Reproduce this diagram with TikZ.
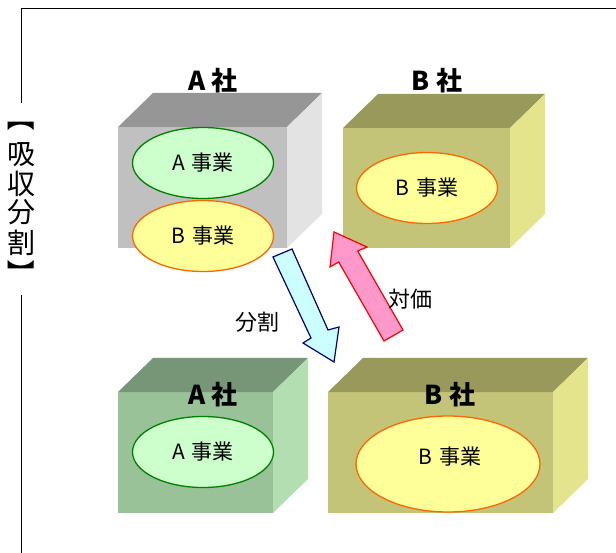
\documentclass[tikz,border=0pt]{standalone}
\usepackage{fontspec}
\setmainfont{Noto Sans CJK JP}
\usetikzlibrary{shapes.geometric}
\definecolor{gFront}{HTML}{C0C0C0}
\definecolor{gTop}{HTML}{969696}
\definecolor{gSide}{HTML}{E3E3E3}
\definecolor{oFront}{HTML}{C4C478}
\definecolor{oTop}{HTML}{99995C}
\definecolor{oSide}{HTML}{E4E48C}
\definecolor{nFront}{HTML}{99C299}
\definecolor{nTop}{HTML}{779677}
\definecolor{nSide}{HTML}{B2DEB2}
\definecolor{ellG}{HTML}{CCFFCC}
\definecolor{ellGline}{HTML}{008000}
\definecolor{ellY}{HTML}{FFFF99}
\definecolor{ellYline}{HTML}{FF6600}
\definecolor{arrB}{HTML}{CCFFFF}
\definecolor{arrBline}{HTML}{000080}
\definecolor{arrP}{HTML}{FF99CC}
\newcommand\cubebox[7]{%
  \fill[#5] (#1,#2) rectangle (#3,#4);
  \fill[#6] (#1,#2) -- (#1+35,#2-34) -- (#3+35,#2-34) -- (#3,#2) -- cycle;
  \fill[#7] (#3,#2) -- (#3+35,#2-34) -- (#3+35,#4-34) -- (#3,#4) -- cycle;
}
\newcommand\biz[1]{#1\hspace{0.32em}事業}
\tikzset{
  bizA/.style={ellipse, draw=ellGline, fill=ellG, line width=1.3pt, inner sep=0pt,
    minimum width=141pt, minimum height=71pt, font=\fontsize{21}{21}\selectfont},
  bizB/.style={ellipse, draw=ellYline, fill=ellY, line width=1.3pt, inner sep=0pt,
    minimum width=141pt, minimum height=71pt, font=\fontsize{21}{21}\selectfont},
  company/.style={inner sep=0pt, font=\fontsize{26}{26}\selectfont\bfseries},
  plain/.style={inner sep=0pt, font=\fontsize{22}{22}\selectfont},
  vlabel/.style={inner sep=0pt, font=\fontsize{28}{28}\selectfont},
  frame/.style={draw=black, line width=0.9pt},
}
\begin{document}
\begin{tikzpicture}[x=1pt,y=-1pt]
\useasboundingbox (0,0) rectangle (616,553);
\fill[white] (0,0) rectangle (616,553);
% frame
\coordinate (f1) at (21,103);
\coordinate (f2) at (21,8);
\coordinate (f3) at (617,8);
\coordinate (f4) at (21,295);
\coordinate (f5) at (21,554);
\draw[frame] (f1) -- (f2) -- (f3);
\draw[frame] (f4) -- (f5);
% vertical label
\node[vlabel, rotate=-90] (lb1) at (21.5,118) {【};
\node[vlabel] (lb2) at (21.5,154.5) {吸};
\node[vlabel] (lb3) at (21.5,183.5) {収};
\node[vlabel] (lb4) at (21.5,212.5) {分};
\node[vlabel] (lb5) at (21.5,242.5) {割};
\node[vlabel, rotate=-90] (lb6) at (21.5,274) {】};
% top-left A company
\cubebox{118}{127}{287}{248}{gFront}{gTop}{gSide}
\node[company] (a1) at (213,81) {A 社};
\node[bizA] (a1a) at (203,163) {\biz{A}};
\node[bizB] (a1b) at (203,236) {\biz{B}};
% top-right B company
\cubebox{343}{128}{510}{248}{oFront}{oTop}{oSide}
\node[company] (b1) at (437,81) {B 社};
\node[bizB] (b1b) at (427,188) {\biz{B}};
% bottom-left A company
\cubebox{118}{392}{273}{513}{nFront}{nTop}{nSide}
\node[company] (a2) at (213,395) {A 社};
\node[bizA] (a2a) at (203,452) {\biz{A}};
% bottom-right B company
\cubebox{328}{392}{553}{513}{oFront}{oTop}{oSide}
\node[company] (b2) at (450,395) {B 社};
\node[bizB, minimum width=184pt, minimum height=96pt] (b2b) at (448,464) {};
\node[plain, font=\fontsize{21}{21}\selectfont] (b2t) at (450,457) {\biz{B}};
% arrows
\draw[draw=arrBline, fill=arrB, line width=1.2pt, line join=miter]
  (273,257) -- (292,249) -- (328,330) -- (339,327) -- (334,362) -- (303,343) -- (311,338) -- cycle;
\draw[draw=red, fill=arrP, line width=1.2pt, line join=miter]
  (384,341) -- (403,330) -- (357.7,251) -- (367,247) -- (334,232) -- (330,267) -- (338.7,262) -- cycle;
\node[plain] (t1) at (257,322) {分割};
\node[plain] (t2) at (410,299) {対価};
\end{tikzpicture}
\end{document}
